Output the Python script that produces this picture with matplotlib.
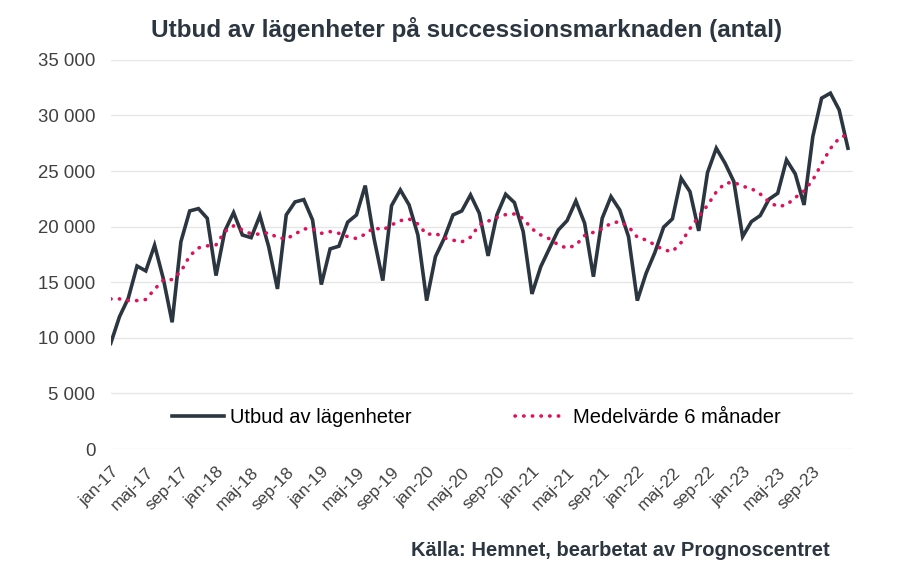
import matplotlib.pyplot as plt
from matplotlib.ticker import FuncFormatter

plt.rcParams['font.family'] = ['Liberation Sans', 'DejaVu Sans']

# monthly values jan-17 .. jan-24
utbud = [9500, 11900, 13560, 16460, 16020, 18330, 15300, 11400, 18650, 21410,
         21620, 20750, 15600, 19600, 21260, 19250, 19010, 20990, 18200, 14400,
         21050, 22220, 22430, 20600, 14790, 18000, 18240, 20400, 21050, 23690,
         18950, 15150, 21890, 23300, 21950, 19250, 13350, 17300, 18950, 21050,
         21410, 22850, 21200, 17370, 21050, 22910, 22160, 19550, 13950, 16400,
         18060, 19700, 20540, 22310, 20300, 15500, 20750, 22700, 21500, 19100,
         13350, 15800, 17670, 19950, 20700, 24350, 23150, 19620, 24860, 27050,
         25700, 24050, 19100, 20450, 20990, 22460, 23000, 26000, 24740, 21950,
         28100, 31550, 32000, 30500, 27050]

medel = [13500, 13500, 13350, 13350, 13450, 14370, 15200, 15240, 15960, 17370,
         18090, 18270, 18360, 19550, 20070, 19700, 19350, 19320, 19460, 19010,
         18900, 19320, 19800, 19800, 19400, 19550, 19400, 19100, 18930, 19320,
         19910, 19700, 20150, 20540, 20690, 20240, 19290, 19400, 18990, 18780,
         18630, 19050, 20150, 20490, 20810, 21080, 21140, 20720, 19800, 19250,
         18900, 18360, 18060, 18330, 19200, 19490, 19800, 20300, 20460, 20000,
         19050, 18800, 18360, 17900, 17760, 18570, 19830, 20900, 21920, 23120,
         23900, 23990, 23630, 23420, 22940, 22220, 21800, 21950, 22610, 23210,
         24200, 25640, 27020, 27950, 28310]

tick_labels = ['jan-17', 'maj-17', 'sep-17', 'jan-18', 'maj-18', 'sep-18',
               'jan-19', 'maj-19', 'sep-19', 'jan-20', 'maj-20', 'sep-20',
               'jan-21', 'maj-21', 'sep-21', 'jan-22', 'maj-22', 'sep-22',
               'jan-23', 'maj-23', 'sep-23']

x = list(range(len(utbud)))

fig = plt.figure(figsize=(9, 5.75), dpi=100)
ax = fig.add_axes([0.123, 0.219, 0.825, 0.677])

ax.plot(x, utbud, color='#2b3640', lw=2.6, label='Utbud av lägenheter',
        solid_joinstyle='miter')
ax.plot(x, medel, color='#e0105a', lw=2.6, linestyle=(0, (0.1, 2.3)),
        dash_capstyle='round', label='Medelvärde 6 månader')

ax.set_ylim(0, 35000)
ax.set_xlim(0.59, 84.6)
ax.set_yticks(range(0, 35001, 5000))
ax.yaxis.set_major_formatter(FuncFormatter(lambda v, p: f'{int(v):,}'.replace(',', ' ')))
ax.set_xticks(range(0, len(tick_labels) * 4, 4))
ax.set_xticklabels(tick_labels, rotation=45, ha='right', rotation_mode='anchor')
ax.tick_params(axis='both', length=0, colors='#404040')
ax.tick_params(axis='x', labelsize=12.5, pad=11)
ax.tick_params(axis='y', labelsize=13.4, pad=11)
ax.grid(axis='y', color='#e6e6e6', lw=1)
ax.set_axisbelow(True)
for s in ax.spines.values():
    s.set_visible(False)

ax.legend(loc='center left', bbox_to_anchor=(0.0826, 0.082), ncol=2, frameon=False,
          fontsize=14.5, handlelength=2.6, columnspacing=5.1, handletextpad=0.3,
          borderpad=0, borderaxespad=0)

fig.text(0.518, 0.948, 'Utbud av lägenheter på successionsmarknaden (antal)',
         ha='center', va='center', fontsize=17.5, fontweight='bold', color='#2b3640')
fig.text(0.922, 0.043, 'Källa: Hemnet, bearbetat av Prognoscentret',
         ha='right', va='center', fontsize=14.5, fontweight='bold', color='#2b3640')

plt.savefig('out.png', dpi=100)
